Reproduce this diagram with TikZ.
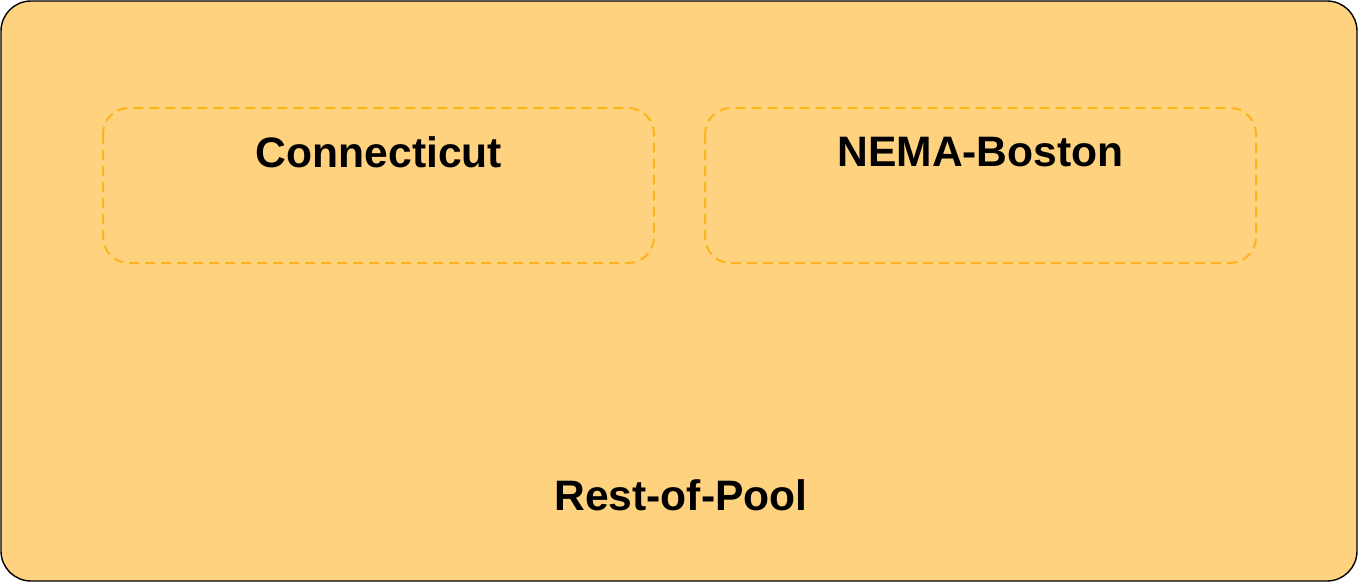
\documentclass[tikz,border=0pt]{standalone}
\usepackage{fontspec}
\setmainfont{Liberation Sans}
\definecolor{poolfill}{HTML}{FFD27F}
\definecolor{dashc}{HTML}{FFB31A}
\begin{document}
\begin{tikzpicture}[x=1pt,y=-1pt,
  lab/.style={font=\fontsize{42.6}{48}\selectfont\bfseries, text=black, inner sep=0pt},
  sub/.style={draw=dashc, line width=2pt, dash pattern=on 10pt off 6pt, rounded corners=26pt}]
\useasboundingbox (0,0) rectangle (1358,582);
\draw[fill=poolfill, draw=black, line width=1.4pt, rounded corners=30pt] (1,1) rectangle (1357,581);
\draw[sub] (103,108) rectangle (654,263);
\draw[sub] (705,108) rectangle (1256,263);
\node[lab] (ct) at (379,152) {Connecticut};
\node[lab] (nb) at (980.5,152) {NEMA-Boston};
\node[lab] (rp) at (681,495) {Rest-of-Pool};
\end{tikzpicture}
\end{document}
